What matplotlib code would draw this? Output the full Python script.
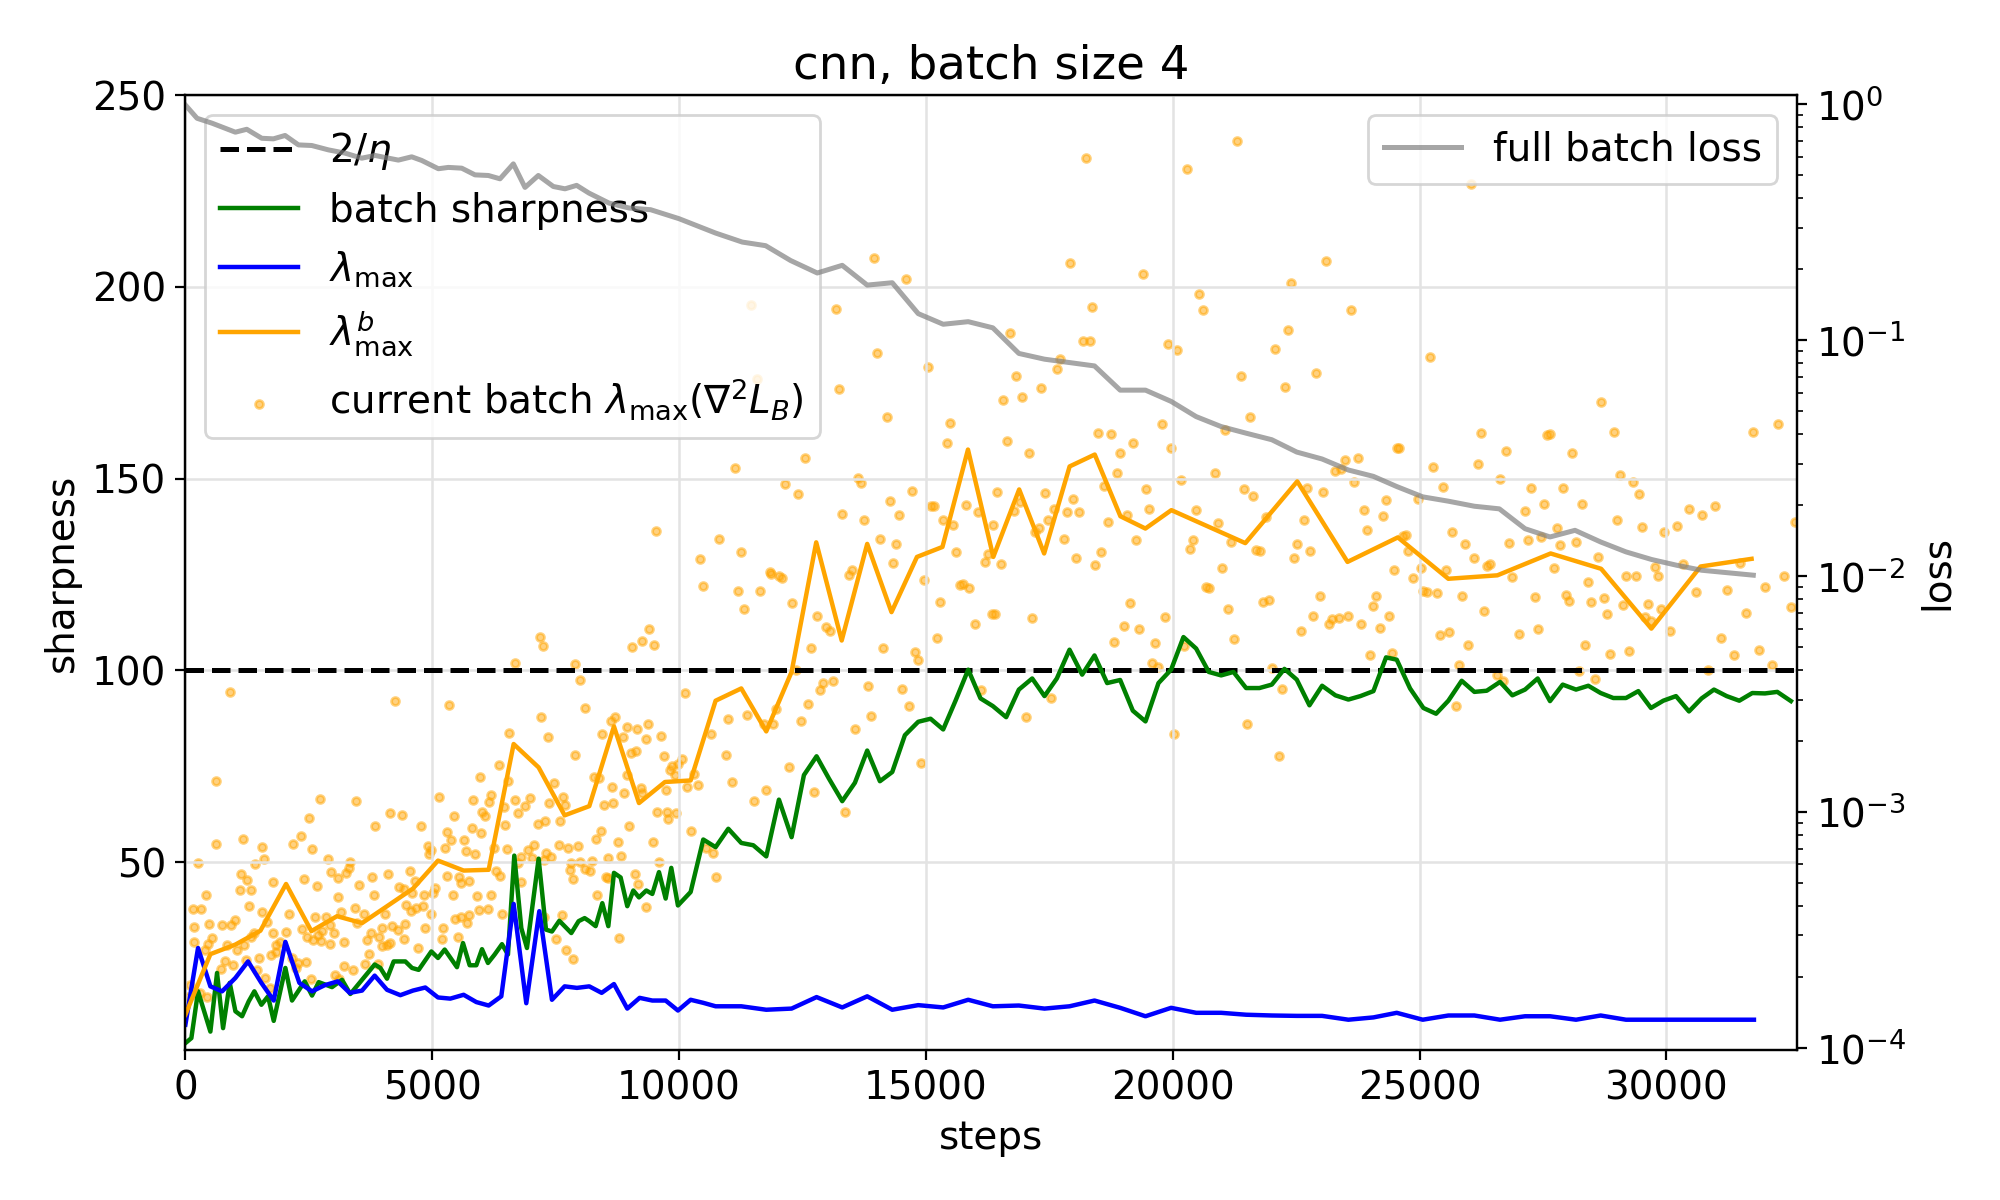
import matplotlib
matplotlib.use("Agg")
import matplotlib.pyplot as plt

plt.rcParams['font.family'] = ['DejaVu Sans']
plt.rcParams['font.size'] = 14

# ---------------- data ----------------
title = "cnn, batch size 4"
eta_line = 100.0

green_steps = [0, 121, 256, 506, 641, 763, 898, 1013, 1148, 1283, 1397, 1539, 1674, 1789, 2025, 2160, 2417, 2565, 2700, 2970,
               3173, 3341, 3578, 3834, 3949, 4084, 4219, 4455, 4590, 4725, 4982, 5117, 5252, 5501, 5623, 5758, 5893, 6008, 6129, 6264,
               6413, 6534, 6662, 6804, 6919, 7155, 7304, 7425, 7574, 7817, 7965, 8087, 8181, 8310, 8445, 8567, 8681, 8816, 8951, 9073,
               9188, 9336, 9458, 9593, 9728, 9842, 9977, 10234, 10490, 10740, 10997, 11260, 11503, 11766, 12023, 12279, 12529, 12785, 13035, 13305,
               13562, 13811, 14068, 14318, 14574, 14844, 15094, 15350, 15600, 15857, 16106, 16356, 16626, 16883, 17153, 17402, 17652, 17909, 18165, 18415,
               18671, 18935, 19191, 19448, 19711, 19967, 20217, 20474, 20730, 20980, 21230, 21486, 21756, 22006, 22262, 22512, 22769, 23025, 23295, 23558,
               23801, 24065, 24321, 24537, 24807, 25077, 25334, 25583, 25853, 26110, 26360, 26630, 26879, 27136, 27392, 27642, 27899, 28169, 28418, 28668,
               28924, 29181, 29431, 29687, 29937, 30194, 30457, 30713, 30963, 31220, 31476, 31739, 31996, 32246, 32522]
green_vals = [2.8, 4.1, 16.3, 5.8, 21.1, 6.7, 18.5, 11.1, 9.8, 13.7, 16.3, 12.8, 15.0, 8.6, 22.4, 13.9, 18.9, 15.2, 18.7, 17.4,
              19.3, 15.6, 19.3, 23.3, 22.4, 19.6, 24.1, 24.1, 22.4, 21.9, 26.7, 25.0, 27.2, 22.6, 28.9, 23.1, 23.1, 27.3, 23.7, 25.9,
              28.6, 25.9, 51.7, 32.8, 27.6, 50.9, 32.4, 31.9, 34.7, 31.5, 34.6, 35.4, 34.6, 33.3, 39.3, 33.3, 47.2, 46.0, 38.5, 42.6,
              40.8, 42.6, 41.7, 47.4, 40.5, 48.5, 38.7, 42.2, 55.9, 53.9, 58.7, 55.0, 54.4, 51.5, 66.3, 56.5, 72.7, 77.6, 71.8, 65.9,
              70.7, 79.1, 71.1, 73.5, 83.1, 86.6, 87.4, 84.6, 92.1, 100.2, 92.7, 90.7, 87.8, 95.0, 97.9, 93.3, 97.9, 105.4, 98.9, 103.9,
              96.7, 97.5, 89.5, 86.7, 96.7, 100.2, 108.7, 105.7, 99.6, 98.7, 99.6, 95.4, 95.4, 96.3, 100.4, 97.6, 90.9, 96.0, 93.5, 92.4,
              93.3, 94.6, 103.4, 102.8, 95.3, 90.2, 88.7, 92.1, 97.3, 94.4, 94.7, 97.0, 93.5, 95.0, 97.9, 92.0, 96.3, 95.0, 96.0, 94.1,
              92.8, 92.8, 94.6, 90.2, 92.1, 93.3, 89.3, 92.7, 95.0, 93.3, 92.1, 94.1, 94.0, 94.4, 92.0]

blue_steps = [0, 256, 506, 743, 1013, 1269, 1539, 1789, 2025, 2309, 2565, 2822, 3085, 3328, 3578, 3834, 4084, 4354, 4610, 4860,
              5117, 5366, 5636, 5893, 6143, 6399, 6649, 6905, 7169, 7425, 7682, 7931, 8181, 8432, 8681, 8951, 9201, 9458, 9728, 9977,
              10234, 10490, 10740, 11260, 11766, 12279, 12785, 13305, 13811, 14318, 14844, 15350, 15857, 16356, 16883, 17402, 17909, 18415, 18935, 19448,
              19967, 20474, 20980, 21486, 22006, 22512, 23025, 23558, 24065, 24537, 25064, 25583, 26110, 26630, 27136, 27642, 28169, 28668, 29181, 29701,
              30207, 30713, 31220, 31773]
blue_vals = [7.6, 27.6, 17.6, 16.3, 19.8, 24.1, 18.5, 13.9, 29.2, 18.5, 16.3, 17.9, 18.9, 15.9, 16.5, 20.4, 16.7, 15.3, 16.5, 17.3,
             14.7, 14.4, 15.4, 13.5, 12.6, 15.0, 39.1, 13.2, 37.2, 14.1, 17.6, 17.2, 17.6, 15.9, 18.2, 11.8, 14.6, 13.9, 13.9, 11.3,
             14.1, 13.3, 12.4, 12.4, 11.5, 11.8, 14.8, 12.1, 15.0, 11.5, 12.7, 12.1, 14.1, 12.4, 12.6, 11.8, 12.4, 13.9, 12.0, 9.8,
             12.0, 10.7, 10.7, 10.2, 10.0, 9.9, 9.9, 8.9, 9.5, 10.7, 8.9, 10.0, 10.0, 8.9, 9.8, 9.8, 8.9, 10.0, 8.9, 8.9,
             8.9, 8.9, 8.9, 8.9]

orange_steps = [0, 506, 1013, 1519, 2039, 2552, 3071, 3578, 4084, 4610, 5117, 5636, 6143, 6649, 7155, 7682, 8181, 8681, 9188, 9714,
                10234, 10740, 11260, 11766, 12279, 12778, 13294, 13811, 14303, 14819, 15335, 15852, 16365, 16889, 17395, 17911, 18420, 18940, 19446, 19972,
                21470, 22522, 23540, 24560, 25582, 26576, 27655, 28678, 29695, 30692, 31725]
orange_vals = [10.2, 26.0, 28.5, 32.1, 44.3, 32.0, 35.9, 34.1, 38.5, 43.1, 50.4, 47.8, 48.0, 80.8, 74.7, 62.2, 64.6, 85.4, 65.4, 70.9,
               71.3, 92.1, 95.3, 84.1, 99.6, 133.4, 107.8, 133.0, 115.2, 129.6, 132.2, 157.6, 129.6, 147.2, 130.5, 153.2, 156.3, 140.2, 137.0, 141.8,
               133.2, 149.3, 128.3, 134.7, 123.9, 124.8, 130.5, 126.5, 110.9, 127.1, 129.1]

loss_steps = [0, 236, 540, 1012, 1243, 1547, 1783, 2019, 2290, 2560, 2897, 3234, 3572, 3842, 4044, 4314, 4584, 4787, 5124, 5327,
              5597, 5866, 6136, 6373, 6643, 6879, 7149, 7453, 7689, 7925, 8175, 8580, 8985, 9424, 9998, 10740, 11280, 11753, 12259, 12799,
              13305, 13811, 14318, 14844, 15350, 15857, 16356, 16883, 17402, 17909, 18415, 18935, 19448, 19967, 20474, 20980, 21486, 22006, 22512, 23025,
              23558, 24065, 24537, 25064, 25583, 26110, 26616, 27136, 27642, 28148, 28668, 29181, 29701, 30207, 30713, 31760]
loss_vals = [0.995, 0.874, 0.833, 0.763, 0.785, 0.719, 0.715, 0.739, 0.674, 0.670, 0.642, 0.622, 0.592, 0.608, 0.596, 0.581, 0.600, 0.579, 0.534, 0.541,
             0.537, 0.503, 0.500, 0.484, 0.560, 0.445, 0.500, 0.449, 0.439, 0.454, 0.421, 0.382, 0.364, 0.358, 0.328, 0.285, 0.261, 0.252, 0.218, 0.193,
             0.208, 0.1715, 0.1755, 0.1298, 0.117, 0.120, 0.113, 0.0880, 0.0832, 0.0805, 0.0779, 0.0615, 0.0615, 0.0551, 0.0475, 0.0431, 0.0404, 0.0379, 0.0336, 0.0314,
             0.0282, 0.0265, 0.0240, 0.0217, 0.0208, 0.0198, 0.0193, 0.0159, 0.01467, 0.01565, 0.01397, 0.01268, 0.01177, 0.01113, 0.01060, 0.0101]

# current batch lambda_max(Hessian of L_B): (step, value)
current_batch = [
    (7190, 108.7), (7236, 106.3), (6669, 102.0), (7898, 101.7), (7999, 97.5), (898, 94.4), (4253, 92.1), (5346, 91.1), (8100, 90.2), (7202, 87.9),
    (6561, 83.7), (7337, 82.6), (7884, 78.0), (628, 71.2), (5960, 72.2), (6345, 75.3), (6534, 71.2), (7459, 70.7), (2720, 66.5), (3449, 66.0),
    (5130, 67.0), (5819, 66.2), (6183, 67.4), (6143, 65.7), (6683, 66.2), (6980, 66.8), (7655, 67.1), (7695, 65.0), (7358, 65.4), (4138, 62.8),
    (4381, 62.3), (6008, 63.1), (6075, 62.0), (6446, 64.4), (6885, 64.7), (6737, 62.8), (5434, 62.0), (2498, 61.5), (3834, 59.5), (4766, 59.5),
    (7283, 60.7), (7135, 60.0), (7594, 60.7), (6467, 59.7), (5299, 57.9), (5798, 58.9), (5981, 57.6), (614, 54.7), (1161, 56.0), (2336, 56.8),
    (2174, 54.7), (1546, 54.0), (2558, 53.4), (4907, 54.2), (4982, 53.2), (4941, 52.1), (5252, 53.7), (5373, 55.7), (5636, 55.8), (5677, 52.9),
    (5866, 52.1), (6244, 53.7), (6507, 53.4), (7054, 54.4), (7560, 54.5), (7742, 53.7), (7952, 54.2), (7297, 52.4), (7412, 51.3), (6946, 53.2),
    (7020, 51.1), (7256, 50.6), (6804, 51.3), (6743, 49.8), (257, 49.9), (1600, 50.8), (1404, 49.5), (2882, 50.8), (3328, 50.0), (7803, 49.8),
    (7985, 50.0), (7796, 47.9), (7844, 45.7), (8100, 48.3), (1121, 46.9), (1242, 45.3), (1782, 44.9), (2396, 45.6), (2943, 47.5), (3098, 45.9),
    (3260, 47.2), (3308, 48.5), (3780, 46.1), (4097, 46.9), (4543, 47.8), (4644, 45.2), (5299, 46.4), (5542, 46.0), (5576, 44.6), (5744, 45.1),
    (6284, 47.8), (6365, 46.4), (6797, 44.8), (1100, 42.8), (1323, 42.6), (412, 41.4), (2660, 43.8), (3517, 44.0), (3085, 40.9), (3821, 41.3),
    (4320, 43.5), (4421, 43.0), (4597, 42.0), (4826, 41.3), (5049, 43.3), (5009, 42.0), (5414, 41.4), (5900, 41.2), (6197, 41.4), (162, 37.9),
    (324, 37.9), (1283, 38.6), (1559, 37.1), (2099, 36.5), (2619, 35.7), (2842, 35.7), (3146, 37.1), (3436, 38.0), (3611, 36.5), (4037, 36.4),
    (4475, 38.8), (4570, 37.3), (4678, 38.1), (4806, 38.5), (4968, 36.5), (5468, 35.2), (5582, 35.7), (5744, 36.2), (5940, 37.4), (6122, 37.8),
    (6406, 36.5), (7628, 36.1), (7256, 35.6), (169, 33.2), (486, 33.9), (736, 33.5), (932, 33.5), (1006, 34.8), (1661, 34.3), (2045, 31.8),
    (2369, 32.6), (2768, 32.0), (2687, 30.9), (3004, 31.4), (2930, 33.6), (3483, 34.1), (3686, 29.8), (3753, 31.5), (3929, 30.4), (3989, 32.8),
    (4185, 33.3), (4300, 32.4), (4442, 33.9), (4860, 32.8), (5211, 32.8), (5704, 34.1), (5198, 30.0), (5515, 30.6), (4421, 30.0), (7513, 30.0),
    (169, 29.1), (540, 30.2), (459, 28.6), (392, 27.2), (837, 28.4), (1053, 27.1), (1195, 28.3), (1391, 31.5), (1330, 30.5), (1485, 25.0),
    (1769, 31.5), (1843, 28.5), (1917, 29.1), (1836, 26.6), (1742, 25.9), (2471, 30.6), (2579, 29.7), (2747, 29.3), (2923, 28.6), (3220, 29.1),
    (3713, 26.1), (3983, 28.2), (4084, 28.5), (4151, 28.9), (4712, 27.6), (7715, 27.1), (7844, 24.7), (959, 23.1), (797, 24.3), (716, 22.2),
    (1229, 24.5), (1458, 21.9), (2167, 25.0), (2275, 23.7), (2444, 23.9), (2234, 22.3), (1620, 19.8), (1721, 17.2), (2538, 19.5), (3206, 23.0),
    (3395, 21.9), (3645, 23.4), (3902, 23.4), (3038, 20.5), (3105, 19.6), (101, 17.9), (203, 15.6), (297, 15.9), (439, 14.7), (47, 14.7),
    (10490, 122.0), (11199, 120.8), (11638, 120.6), (11321, 115.9), (11854, 125.2), (12023, 124.6), (12090, 124.0), (13440, 124.8), (14959, 123.7), (15681, 122.4),
    (15749, 122.6), (15870, 121.5), (12293, 117.6), (12799, 114.1), (12968, 111.3), (13055, 110.4), (15283, 117.9), (15992, 112.0), (15229, 108.5), (16343, 114.7),
    (9053, 106.1), (9255, 107.8), (9397, 110.8), (9498, 106.7), (12677, 105.9), (14135, 105.9), (14777, 104.8), (14844, 102.6), (12360, 100.0), (10112, 94.0),
    (12920, 96.7), (12853, 95.0), (13123, 97.3), (13832, 96.0), (14520, 95.2), (14655, 90.7), (16120, 95.0), (12617, 91.3), (11955, 90.0), (11381, 88.5),
    (10997, 87.4), (12475, 86.9), (11901, 85.9), (11719, 86.1), (13892, 88.2), (13562, 84.8), (8614, 86.7), (8708, 87.8), (8938, 85.3), (9154, 84.6),
    (9377, 86.1), (8445, 83.3), (8870, 82.6), (9323, 82.0), (9640, 82.9), (10639, 83.4), (10943, 78.0), (12225, 74.8), (14905, 75.9), (9032, 78.4),
    (9120, 79.1), (9701, 77.7), (9849, 75.2), (9984, 75.7), (10052, 77.0), (9815, 73.9), (9917, 72.8), (10308, 73.1), (8276, 72.2), (8378, 72.0),
    (8951, 72.8), (11078, 70.9), (8648, 69.7), (9221, 69.3), (8884, 67.9), (9255, 67.9), (9728, 68.7), (10166, 69.5), (10376, 70.2), (11766, 68.8),
    (12738, 68.3), (8486, 65.0), (8668, 65.3), (11516, 66.0), (9559, 63.1), (9761, 63.1), (9944, 62.9), (9782, 61.3), (13359, 63.1), (8992, 59.5),
    (8411, 58.1), (8324, 56.0), (8769, 55.3), (9478, 55.3), (10247, 58.1), (8553, 51.1), (8830, 51.6), (8229, 50.4), (9599, 50.0), (8189, 47.6),
    (8513, 46.0), (8567, 45.9), (9100, 46.9), (9174, 44.3), (8344, 41.4), (9336, 38.3), (8783, 30.2), (10551, 53.7), (10686, 52.4), (10754, 46.1),
    (13946, 207.6), (14601, 202.1), (13184, 194.3), (14014, 182.8), (15040, 179.2), (13244, 173.4), (14216, 166.1), (15492, 164.5), (15431, 159.2), (12542, 155.4),
    (11138, 152.8), (12151, 148.6), (12414, 146.0), (13629, 150.2), (13690, 148.9), (14723, 146.9), (14277, 144.3), (15094, 142.8), (15161, 142.8), (15816, 143.2),
    (16052, 141.3), (15344, 139.3), (15553, 138.0), (13305, 140.8), (13751, 139.3), (14459, 140.5), (9539, 136.4), (10814, 134.3), (10430, 129.1), (11260, 131.0),
    (14075, 134.3), (14399, 133.0), (14331, 128.0), (15614, 131.0), (16255, 130.4), (16194, 128.2), (11840, 125.7), (13508, 126.3), (11462, 195.4), (11584, 176.1),
    (18246, 233.7), (20291, 230.8), (21304, 238.2), (17922, 206.3), (19400, 203.4), (23106, 206.9), (22397, 201.1), (20534, 198.2), (20609, 194.0), (18368, 194.8),
    (23612, 194.0), (16707, 188.1), (18179, 185.8), (18314, 185.9), (19907, 185.2), (20089, 183.6), (22330, 188.8), (22073, 183.9), (17720, 181.2), (17659, 178.7),
    (16829, 176.8), (17335, 173.7), (16950, 171.3), (16565, 170.4), (21385, 176.9), (22276, 174.0), (22897, 177.6), (21560, 166.1), (19785, 164.3), (21061, 162.7),
    (18489, 161.9), (18752, 161.7), (16640, 159.9), (17092, 156.7), (18935, 156.7), (19198, 159.2), (19967, 158.0), (18867, 151.5), (20858, 151.5), (20170, 149.7),
    (23295, 151.9), (23491, 155.0), (23754, 155.4), (23417, 152.4), (23673, 149.2), (16444, 146.6), (17416, 146.4), (17983, 144.8), (18617, 148.0), (19461, 147.3),
    (21452, 147.3), (21628, 145.6), (22715, 147.6), (23039, 146.6), (24321, 144.5), (16356, 138.0), (16775, 141.5), (16896, 143.9), (17591, 142.1), (17861, 141.3),
    (18104, 141.3), (19522, 142.1), (20474, 141.9), (23882, 141.9), (24254, 140.4), (24537, 157.9), (17288, 137.2), (17477, 139.3), (17200, 136.0), (18692, 138.8),
    (19076, 140.5), (20919, 138.5), (21891, 139.9), (22661, 139.3), (17801, 134.4), (19259, 133.9), (20413, 134.0), (20352, 131.7), (21182, 133.6), (21689, 131.4),
    (21776, 131.2), (22519, 133.0), (22782, 131.1), (23943, 136.5), (16511, 127.8), (18044, 129.2), (18428, 127.6), (18550, 130.9), (21000, 126.7), (22458, 129.3),
    (24483, 126.3),
    (16390, 114.7), (17153, 113.7), (19137, 117.6), (19022, 111.7), (19313, 110.7), (18813, 107.4), (19643, 107.2), (19846, 114.0), (20676, 121.7), (20730, 121.5),
    (21122, 116.1), (21243, 108.3), (21824, 117.9), (21959, 118.4), (22985, 119.4), (22836, 114.3), (22600, 110.4), (23160, 112.1), (23228, 113.4), (23376, 113.7),
    (23558, 114.3), (23815, 112.2), (24051, 116.9), (24119, 119.3), (24200, 111.1), (24375, 114.3), (23997, 103.9), (24436, 104.6), (19583, 102.0), (19711, 100.9),
    (20237, 106.3), (22013, 100.7), (22215, 95.2), (17537, 92.7), (17031, 87.9), (20021, 83.4), (21500, 86.1), (22148, 77.8),
    (26042, 226.9), (25212, 181.8), (28675, 170.0), (26245, 161.9), (27581, 161.5), (27642, 161.7), (28938, 162.2), (31753, 162.2), (32259, 164.3), (24591, 157.9),
    (26751, 157.2), (28088, 156.7), (25273, 153.1), (26184, 153.9), (26636, 150.0), (29060, 151.0), (29323, 149.2), (29444, 146.0), (25475, 147.9), (27257, 147.6),
    (27905, 147.6), (24969, 144.7), (27521, 143.4), (28297, 143.4), (27136, 141.6), (30457, 142.1), (30720, 140.5), (30983, 142.8), (28999, 139.2), (29505, 137.3),
    (29951, 136.2), (30214, 137.6), (32603, 138.7), (27784, 137.2), (24672, 135.0), (24726, 135.2), (25658, 136.2), (25921, 133.0), (26812, 133.3), (27203, 133.9),
    (27460, 134.7), (27845, 132.7), (28169, 133.6), (24773, 131.2), (26103, 129.2), (26360, 127.2), (26434, 127.8), (28614, 129.7), (25030, 126.7), (25536, 126.3),
    (27723, 126.7), (29768, 126.9), (30329, 127.8), (31496, 128.0),
    (24875, 124.1), (25077, 120.8), (25145, 120.5), (25354, 120.2), (25860, 119.5), (26306, 115.6), (25415, 109.3), (25597, 110.0), (25982, 106.7), (25793, 101.5),
    (26873, 124.3), (27338, 119.2), (27399, 110.9), (27014, 109.6), (27966, 119.6), (28020, 118.2), (28466, 117.9), (28412, 123.1), (28736, 119.0), (28790, 114.7),
    (28351, 106.7), (28857, 104.4), (29242, 105.1), (29120, 117.1), (29188, 124.6), (29384, 124.6), (29829, 124.6), (29627, 117.2), (29890, 116.1), (29566, 113.9),
    (29681, 113.0), (30072, 110.4), (30592, 120.5), (31226, 121.1), (31604, 115.0), (31989, 121.8), (32374, 124.6), (32516, 116.6), (31098, 108.5), (31368, 103.9),
    (31874, 105.4), (32138, 101.5), (30842, 100.0), (28229, 99.8), (28547, 97.8), (26569, 98.7), (26697, 97.3), (25732, 90.8),
]
cb_steps = [p[0] for p in current_batch]
cb_vals = [p[1] for p in current_batch]

# ---------------- plot ----------------
fig, ax = plt.subplots(figsize=(10, 6), dpi=200)
fig.subplots_adjust(left=0.0927, right=0.8983, top=0.9206, bottom=0.125)

ax.axhline(eta_line, color='black', linestyle='--', linewidth=1.8, label=r'$2/\eta$')
ax.plot(green_steps, green_vals, color='green', linewidth=1.6, label='batch sharpness')
ax.plot(blue_steps, blue_vals, color='blue', linewidth=1.6, label=r'$\lambda_{\max}$')
ax.plot(orange_steps, orange_vals, color='orange', linewidth=1.6, label=r'$\lambda^b_{\max}$')
ax.scatter(cb_steps, cb_vals, s=8, color='orange', alpha=0.5, linewidths=1.0,
           label=r'current batch $\lambda_{\max}(\nabla^2 L_B)$')

ax.set_xlim(0, 32637)
ax.set_ylim(1, 250)
ax.set_yticks([50, 100, 150, 200, 250])
ax.grid(True, color='#e3e3e3', linewidth=0.9)
ax.set_xlabel('steps')
ax.set_ylabel('sharpness')
ax.set_title(title)
ax.legend(loc='upper left')

ax2 = ax.twinx()
ax2.plot(loss_steps, loss_vals, color='gray', alpha=0.7, linewidth=1.8, label='full batch loss')
ax2.set_yscale('log')
ax2.set_ylim(9.8e-5, 1.094)
ax2.set_ylabel('loss')
ax2.legend(loc='upper right')

fig.savefig('out.png', dpi=200)
